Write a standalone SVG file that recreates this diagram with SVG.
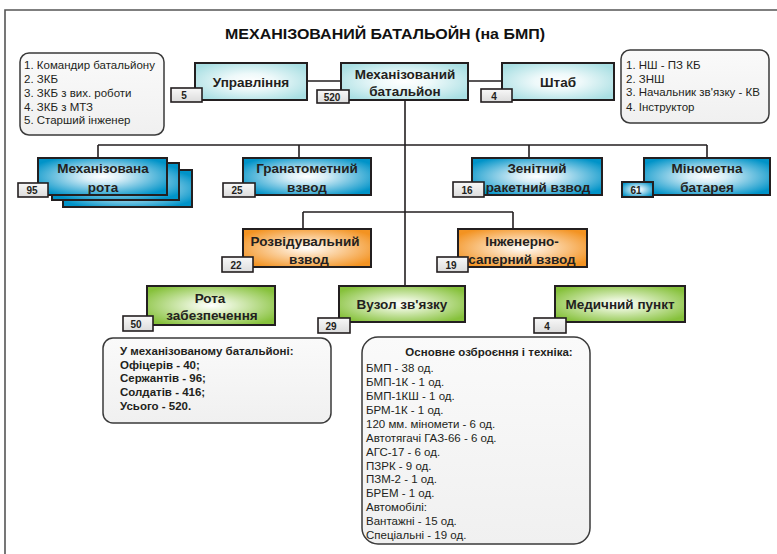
<svg xmlns="http://www.w3.org/2000/svg" width="777" height="554" viewBox="0 0 777 554">
<defs>
<radialGradient id="gCyan" cx="0.5" cy="0.5" r="0.6"><stop offset="0" stop-color="#ffffff"/><stop offset="0.35" stop-color="#eef9fa"/><stop offset="1" stop-color="#a9dfe3"/></radialGradient>
<radialGradient id="gBlue" cx="0.5" cy="0.5" r="0.6"><stop offset="0" stop-color="#ffffff"/><stop offset="0.25" stop-color="#d8eef7"/><stop offset="1" stop-color="#0093c8"/></radialGradient>
<radialGradient id="gOrange" cx="0.5" cy="0.5" r="0.6"><stop offset="0" stop-color="#ffffff"/><stop offset="0.25" stop-color="#fde4c6"/><stop offset="1" stop-color="#f39322"/></radialGradient>
<radialGradient id="gGreen" cx="0.5" cy="0.5" r="0.6"><stop offset="0" stop-color="#ffffff"/><stop offset="0.25" stop-color="#e5f3d2"/><stop offset="1" stop-color="#86c13b"/></radialGradient>
<linearGradient id="gBadge" x1="0" y1="0" x2="0" y2="1"><stop offset="0" stop-color="#f8f8f8"/><stop offset="1" stop-color="#dcdcdc"/></linearGradient>
<linearGradient id="gNote" x1="0" y1="0" x2="0" y2="1"><stop offset="0" stop-color="#fafafa"/><stop offset="1" stop-color="#f0f0f0"/></linearGradient>
<style>
.box{stroke:#231f20;stroke-width:2}
.cyan{fill:url(#gCyan)}
.blue{fill:url(#gBlue)}
.orange{fill:url(#gOrange)}
.green{fill:url(#gGreen)}
.badge{fill:url(#gBadge);stroke:#231f20;stroke-width:1.6}
.bt{font-family:"Liberation Sans",Arial,sans-serif;font-weight:bold;font-size:10px;fill:#231f20;text-anchor:middle}
.lbl{font-family:"Liberation Sans",Arial,sans-serif;font-weight:bold;font-size:13.5px;fill:#231f20;text-anchor:middle}
.note{fill:url(#gNote);stroke:#3a3a3a;stroke-width:1.5}
.nt{font-family:"Liberation Sans",Arial,sans-serif;font-size:11.5px;fill:#231f20}
.ntb{font-family:"Liberation Sans",Arial,sans-serif;font-size:11.5px;font-weight:bold;fill:#231f20}
.con{stroke:#231f20;stroke-width:1.6;fill:none}
</style>
</defs>
<rect x="0" y="0" width="777" height="554" fill="#ffffff"/>
<path d="M5,554 V10 H777" fill="none" stroke="#555" stroke-width="1.6"/>
<text x="385" y="39" text-anchor="middle" font-family="Liberation Sans,Arial,sans-serif" font-weight="bold" font-size="15" fill="#111" textLength="320" lengthAdjust="spacingAndGlyphs">МЕХАНІЗОВАНИЙ БАТАЛЬОЙН (на БМП)</text>

<g id="connectors">
<path class="con" d="M307,81 H341 M468,81 H502"/>
<path class="con" d="M405,100 V286"/>
<path class="con" d="M98,145 H707 M98,145 V158 M299,145 V158 M529,145 V158 M707,145 V158"/>
<path class="con" d="M303,212 H513 M303,212 V229 M513,212 V229"/>
</g>

<g id="note-left">
<rect class="note" x="20" y="53" width="144" height="82" rx="9"/>
<text class="nt" x="24" y="69">1. Командир батальйону</text>
<text class="nt" x="24" y="83">2. ЗКБ</text>
<text class="nt" x="24" y="97">3. ЗКБ з вих. роботи</text>
<text class="nt" x="24" y="111">4. ЗКБ з МТЗ</text>
<text class="nt" x="24" y="124">5. Старший інженер</text>
</g>

<g id="note-right">
<rect class="note" x="621" y="50" width="148" height="73" rx="9"/>
<text class="nt" x="626" y="69">1. НШ - ПЗ КБ</text>
<text class="nt" x="626" y="83">2. ЗНШ</text>
<text class="nt" x="626" y="96">3. Начальник зв'язку - КВ</text>
<text class="nt" x="626" y="111">4. Інструктор</text>
</g>

<g id="upravlinnia">
<rect class="box cyan" x="195" y="63" width="112" height="37"/>
<text class="lbl" x="251" y="86.5">Управління</text>
<rect class="badge" x="171" y="88" width="31" height="14"/>
<text class="bt" x="184" y="99">5</text>
</g>

<g id="batalion">
<rect class="box cyan" x="341" y="63" width="127" height="37"/>
<text class="lbl" x="405" y="78.5">Механізований</text>
<text class="lbl" x="405" y="95.5">батальйон</text>
<rect class="badge" x="317" y="90" width="32" height="13"/>
<text class="bt" x="332" y="100.5">520</text>
</g>

<g id="shtab">
<rect class="box cyan" x="502" y="63" width="112" height="37"/>
<text class="lbl" x="558" y="86.5">Штаб</text>
<rect class="badge" x="481" y="89" width="31" height="13"/>
<text class="bt" x="494" y="99.5">4</text>
</g>

<g id="mekh-rota">
<rect class="box blue" x="63" y="170" width="129" height="37"/>
<rect class="box blue" x="52" y="163" width="127" height="37"/>
<rect class="box blue" x="38" y="158" width="129" height="37"/>
<text class="lbl" x="103" y="172.5">Механізована</text>
<text class="lbl" x="103" y="191.5">рота</text>
<rect class="badge" x="18" y="183" width="30" height="14"/>
<text class="bt" x="32" y="194">95</text>
</g>

<g id="granatometnyi">
<rect class="box blue" x="243" y="158" width="128" height="37"/>
<text class="lbl" x="307" y="172.5">Гранатометний</text>
<text class="lbl" x="307" y="191.5">взвод</text>
<rect class="badge" x="223" y="183" width="32" height="14"/>
<text class="bt" x="237" y="194">25</text>
</g>

<g id="zenitnyi">
<rect class="box blue" x="472" y="158" width="130" height="37"/>
<text class="lbl" x="537" y="172.5">Зенітний</text>
<text class="lbl" x="538" y="191.5">ракетний взвод</text>
<rect class="badge" x="453" y="182" width="31" height="15"/>
<text class="bt" x="467" y="194">16</text>
</g>

<g id="minometna">
<rect class="box blue" x="644" y="158" width="126" height="37"/>
<text class="lbl" x="707" y="172.5">Мінометна</text>
<text class="lbl" x="707" y="191.5">батарея</text>
<rect class="box blue" x="622" y="182" width="31" height="15" stroke-width="1.6"/>
<text class="bt" x="636" y="194">61</text>
</g>

<g id="rozviduvalnyi">
<rect class="box orange" x="243" y="229" width="128" height="38"/>
<text class="lbl" x="305" y="245.5">Розвідувальний</text>
<text class="lbl" x="309" y="263.5">взвод</text>
<rect class="badge" x="222" y="257" width="31" height="15"/>
<text class="bt" x="236" y="268.5">22</text>
</g>

<g id="inzhenerno">
<rect class="box orange" x="458" y="229" width="129" height="38"/>
<text class="lbl" x="522" y="245.5">Інженерно-</text>
<text class="lbl" x="522" y="263.5">саперний взвод</text>
<rect class="badge" x="437" y="257" width="31" height="15"/>
<text class="bt" x="451" y="268.5">19</text>
</g>

<g id="rota-zabezpechennia">
<rect class="box green" x="147" y="286" width="128" height="39"/>
<text class="lbl" x="210" y="303">Рота</text>
<text class="lbl" x="212" y="320">забезпечення</text>
<rect class="badge" x="123" y="316" width="30" height="15"/>
<text class="bt" x="136" y="327.5">50</text>
</g>

<g id="vuzol">
<rect class="box green" x="339" y="286" width="126" height="36"/>
<text class="lbl" x="402" y="308.5">Вузол зв'язку</text>
<rect class="badge" x="318" y="318" width="32" height="15"/>
<text class="bt" x="331" y="329.5">29</text>
</g>

<g id="medychnyi">
<rect class="box green" x="555" y="286" width="130" height="36"/>
<text class="lbl" x="620" y="308.5">Медичний пункт</text>
<rect class="badge" x="534" y="318" width="32" height="15"/>
<text class="bt" x="547" y="329.5">4</text>
</g>

<g id="note-personnel">
<rect class="note" x="103" y="338" width="228" height="85" rx="10"/>
<text class="ntb" x="120" y="355">У механізованому батальйоні:</text>
<text class="ntb" x="120" y="368.5">Офіцерів - 40;</text>
<text class="ntb" x="120" y="382">Сержантів - 96;</text>
<text class="ntb" x="120" y="396">Солдатів - 416;</text>
<text class="ntb" x="120" y="409.5">Усього - 520.</text>
</g>

<g id="note-equipment">
<rect class="note" x="362" y="337" width="228" height="207" rx="16"/>
<text class="ntb" x="489" y="356" text-anchor="middle" font-size="11">Основне озброєння і техніка:</text>
<g class="nt" font-size="11.5">
<text x="366" y="372">БМП - 38 од.</text>
<text x="366" y="386">БМП-1К - 1 од.</text>
<text x="366" y="400">БМП-1КШ - 1 од.</text>
<text x="366" y="414">БРМ-1К - 1 од.</text>
<text x="366" y="427.5">120 мм. міномети - 6 од.</text>
<text x="366" y="441.5">Автотягачі ГАЗ-66 - 6 од.</text>
<text x="366" y="455.5">АГС-17 - 6 од.</text>
<text x="366" y="469.5">ПЗРК - 9 од.</text>
<text x="366" y="483">ПЗМ-2 - 1 од.</text>
<text x="366" y="497">БРЕМ - 1 од.</text>
<text x="366" y="511">Автомобілі:</text>
<text x="366" y="525">Вантажні - 15 од.</text>
<text x="366" y="539">Спеціальні - 19 од.</text>
</g>
</g>
</svg>
